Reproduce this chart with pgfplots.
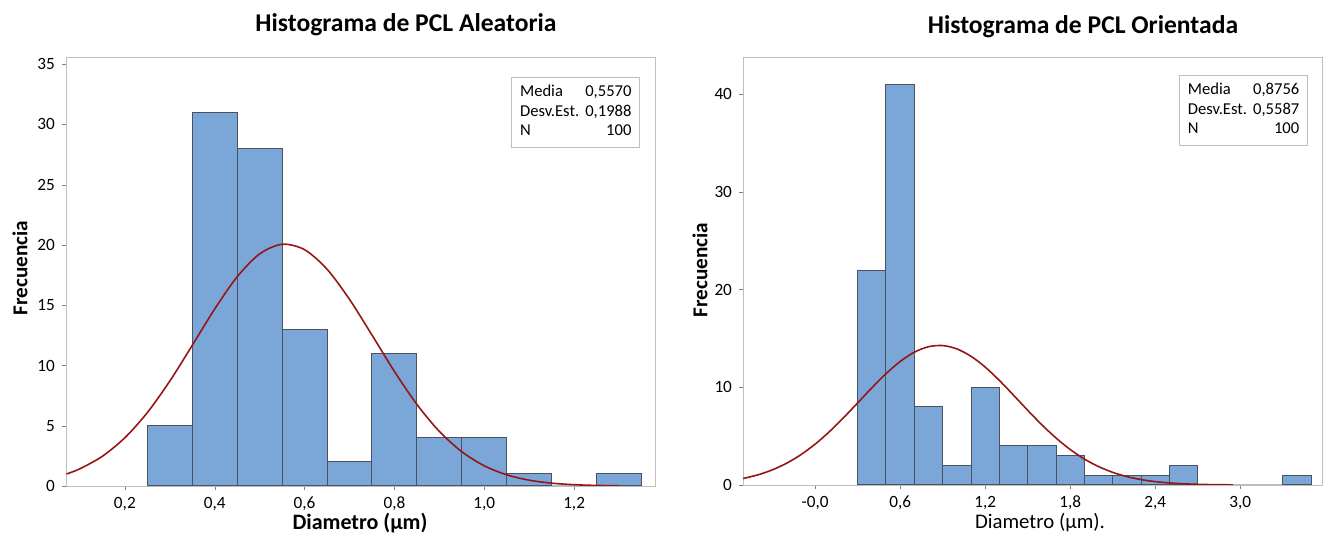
\documentclass[border=0pt]{standalone}
\usepackage{pgfplots}
\pgfplotsset{compat=1.18}
\usepackage{fontspec}
\setmainfont{Carlito}
\definecolor{barfill}{RGB}{123,166,216}
\definecolor{baredge}{RGB}{75,82,95}
\definecolor{fitred}{RGB}{150,22,22}
\definecolor{framegray}{RGB}{190,190,190}

\pgfplotsset{histo/.style={
    scale only axis,
    axis line style={framegray},
    xtick pos=bottom, ytick pos=left,
    tick align=outside, major tick length=2pt,
    tick style={black!50},
    ymin=0,
    tick label style={font=\fontsize{8.6}{10}\selectfont},
}}

\newcommand{\statbox}[2]{\begin{tabular}{@{}l@{}}Media\\ Desv.Est.\\ N\end{tabular}\hspace{3pt}\begin{tabular}{@{}r@{}}#1\\ #2\\ 100\end{tabular}}

\begin{document}
\begin{tikzpicture}
\path (0,0) rectangle (669.5pt,270pt);

% Left: PCL Aleatoria
\begin{axis}[histo,
    at={(33pt,27pt)}, anchor=south west,
    width=294.5pt, height=214.5pt,
    xmin=0.069, xmax=1.38, ymax=35.6,
    xtick={0.2,0.4,0.6,0.8,1.0,1.2},
    xticklabels={{0,2},{0,4},{0,6},{0,8},{1,0},{1,2}},
    ytick={0,5,10,15,20,25,30,35},
    yticklabels={0,5,10,15,20,25,30,35},
]
\addplot[ybar interval, fill=barfill, draw=baredge, line width=0.5pt] coordinates {
(0.25,5) (0.35,31) (0.45,28) (0.55,13) (0.65,2) (0.75,11)
(0.85,4) (0.95,4) (1.05,1) (1.15,0) (1.25,1) (1.35,0)};
\addplot[fitred, line width=0.8pt, smooth] coordinates {
(0.07,0.998) (0.10,1.429) (0.15,2.469) (0.20,4.002) (0.25,6.091)
(0.30,8.702) (0.35,11.67) (0.40,14.69) (0.45,17.36) (0.50,19.26)
(0.55,20.06) (0.60,19.61) (0.65,17.99) (0.70,15.49) (0.75,12.53)
(0.80,9.507) (0.85,6.773) (0.90,4.530) (0.95,2.844) (1.00,1.676)
(1.05,0.927) (1.10,0.481) (1.15,0.235) (1.20,0.107) (1.25,0.046) (1.30,0.019)};
\node[draw=framegray, fill=white, anchor=north east, inner xsep=4.2pt, inner ysep=2.9pt,
      font=\fontsize{8.3}{9.75}\selectfont] at (rel axis cs:0.975,0.953) {\statbox{0,5570}{0,1988}};
\end{axis}

% Right: PCL Orientada
\begin{axis}[histo,
    at={(371.5pt,27.5pt)}, anchor=south west,
    width=289.5pt, height=214pt,
    xmin=-0.509, xmax=3.577, ymax=43.8,
    xtick={0,0.6,1.2,1.8,2.4,3.0},
    xticklabels={{-0,0},{0,6},{1,2},{1,8},{2,4},{3,0}},
    ytick={0,10,20,30,40},
    yticklabels={0,10,20,30,40},
]
\addplot[ybar interval, fill=barfill, draw=baredge, line width=0.5pt] coordinates {
(0.3,22) (0.5,41) (0.7,8) (0.9,2) (1.1,10) (1.3,4) (1.5,4) (1.7,3)
(1.9,1) (2.1,1) (2.3,1) (2.5,2) (2.7,0) (2.9,0) (3.1,0) (3.3,1) (3.5,0)};
\addplot[fitred, line width=0.8pt, smooth] coordinates {
(-0.51,0.659) (-0.4,1.054) (-0.3,1.561) (-0.2,2.238) (-0.1,3.109)
(0.0,4.181) (0.1,5.448) (0.2,6.875) (0.3,8.400) (0.4,9.941)
(0.5,11.39) (0.6,12.64) (0.7,13.59) (0.8,14.15) (0.9,14.27)
(1.0,13.93) (1.1,13.17) (1.2,12.07) (1.3,10.70) (1.4,9.192)
(1.5,7.647) (1.6,6.162) (1.7,4.808) (1.8,3.633) (1.9,2.659)
(2.0,1.885) (2.1,1.294) (2.2,0.860) (2.3,0.554) (2.4,0.345)
(2.5,0.209) (2.6,0.122) (2.7,0.069) (2.8,0.038) (2.95,0.0145)};
\node[draw=framegray, fill=white, anchor=north east, inner xsep=4.2pt, inner ysep=2.9pt,
      font=\fontsize{8.3}{9.75}\selectfont] at (rel axis cs:0.976,0.958) {\statbox{0,8756}{0,5587}};
\end{axis}

% Titles and axis labels
\node[font=\bfseries\fontsize{12.8}{15}\selectfont] at (203pt,257.5pt) {Histograma de PCL Aleatoria};
\node[font=\bfseries\fontsize{12.8}{15}\selectfont] at (541.5pt,256.5pt) {Histograma de PCL Orientada};
\node[font=\bfseries\fontsize{10.6}{12}\selectfont, rotate=90] at (10pt,136pt) {Frecuencia};
\node[font=\bfseries\fontsize{10.6}{12}\selectfont, rotate=90] at (350pt,135pt) {Frecuencia};
\node[font=\bfseries\fontsize{11}{13}\selectfont] at (180pt,8.5pt) {Diametro (µm)};
\node[font=\fontsize{10.4}{12}\selectfont] at (520pt,8.5pt) {Diametro (µm).};
\end{tikzpicture}
\end{document}
